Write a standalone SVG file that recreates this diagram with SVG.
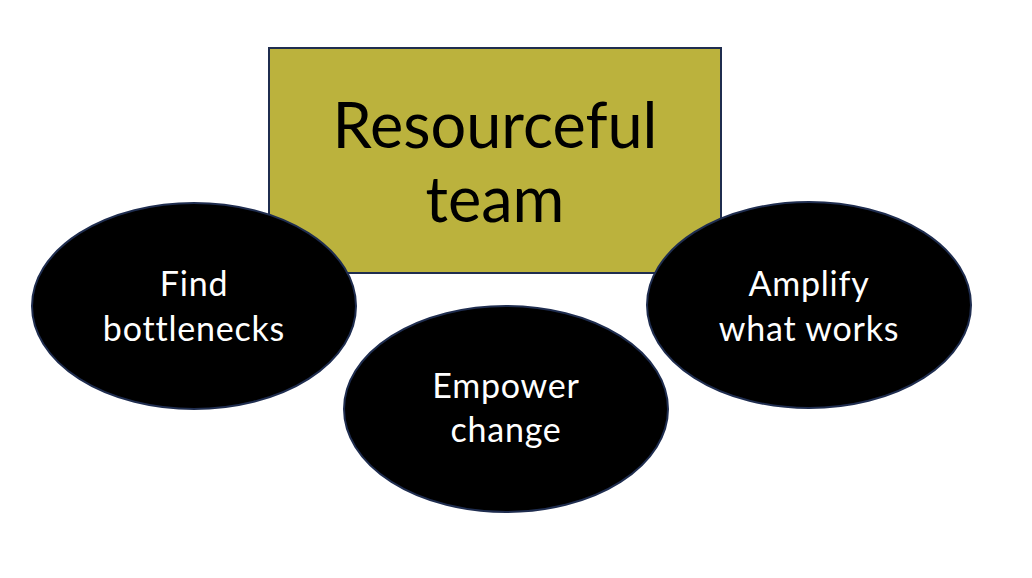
<svg xmlns="http://www.w3.org/2000/svg" width="1032" height="578" viewBox="0 0 1032 578">
<style>
.oval{fill:#000;stroke:#1F2D4F;stroke-width:2}
.lbl{fill:#fff;font-family:"Lato","Liberation Sans",sans-serif;font-size:34px;letter-spacing:0.8px;text-anchor:middle}
.title{fill:#000;font-family:"Lato","Liberation Sans",sans-serif;font-size:63px;text-anchor:middle}
</style>
<rect width="1032" height="578" fill="#fff"/>
<g id="connectors"></g>
<g id="resourceful-team">
<rect x="269" y="48" width="452" height="225" fill="#BBB23D" stroke="#1F2D4F" stroke-width="2"/>
<text class="title" x="495" y="148">Resourceful</text>
<text class="title" x="495" y="222">team</text>
</g>
<g id="find-bottlenecks">
<ellipse class="oval" cx="194" cy="306" rx="162" ry="103"/>
<text class="lbl" x="194" y="296">Find</text>
<text class="lbl" x="194" y="341">bottlenecks</text>
</g>
<g id="amplify">
<ellipse class="oval" cx="809" cy="305" rx="162" ry="103"/>
<text class="lbl" x="809" y="296">Amplify</text>
<text class="lbl" x="809" y="341">what works</text>
</g>
<g id="empower-change">
<ellipse class="oval" cx="506" cy="409" rx="162" ry="103"/>
<text class="lbl" x="506" y="398">Empower</text>
<text class="lbl" x="506" y="442">change</text>
</g>
</svg>
